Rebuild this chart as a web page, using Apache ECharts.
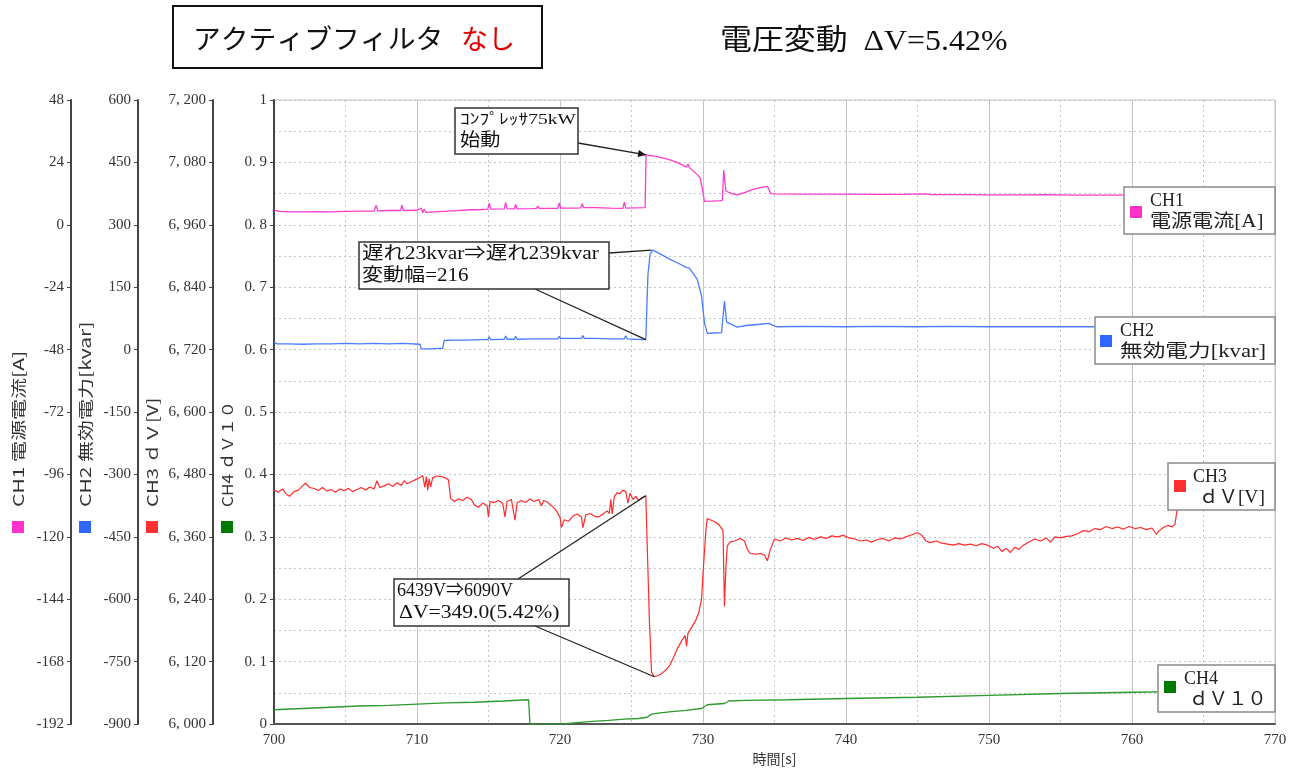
<!DOCTYPE html>
<html><head><meta charset="utf-8">
<script src="https://cdn.jsdelivr.net/npm/echarts@6/dist/echarts.min.js"></script>
<style>html,body{margin:0;padding:0;background:#fff;}#c{width:1304px;height:771px;}</style>
</head><body><div id="c"></div>
<script>
const SERIF = "'Liberation Serif','Noto Sans CJK JP',serif";
const JP = "'Noto Sans CJK JP','Liberation Serif',sans-serif";

// time axis [s]
const xMin = 700, xMax = 770, xStep = 10;
// axis ranges
const ch1Axis = {min:-192, max:48, interval:24};
const ch2Axis = {min:-900, max:600, interval:150};
const ch3Axis = {min:6000, max:7200, interval:120};
const ch4Axis = {min:0, max:1, interval:0.1};

// CH1 電源電流 [A]
const ch1 = [[700.0,5.6],[700.4,5.2],[701,5.0],[702,5.0],[703,5.1],[704,5.0],[705,5.2],[706,5.3],[707,5.3],[707.15,7.5],[707.25,5.4],[708,5.5],[708.85,5.5],[708.95,7.6],[709.05,5.5],[710,5.6],[710.3,6.4],[710.4,4.6],[710.5,6.0],[710.6,4.8],[710.7,5.2],[711.5,5.1],[712.5,5.4],[713.5,5.7],[714.5,5.9],[714.95,6.0],[715.05,8.3],[715.15,6.0],[716.1,6.1],[716.2,8.6],[716.3,6.2],[716.8,6.1],[716.9,7.8],[717.0,6.1],[718,6.2],[718.35,6.3],[718.45,7.2],[718.55,6.3],[719.85,6.3],[719.95,8.4],[720.05,6.4],[721,6.4],[721.45,6.5],[721.55,8.1],[721.65,6.6],[722.5,6.6],[723.5,6.4],[724.4,6.3],[724.5,8.7],[724.6,6.4],[725.2,6.5],[725.95,6.6],[726.02,26.9],[726.5,26.5],[727.1,25.8],[727.7,25.0],[728.3,23.7],[728.85,22.2],[728.95,23.4],[729.05,22.0],[729.6,19.3],[729.8,18.0],[729.95,14.0],[730.1,9.0],[730.6,9.1],[731.2,9.3],[731.35,9.4],[731.45,21.1],[731.6,13.0],[732.0,12.0],[732.4,11.5],[733.0,12.6],[733.5,13.6],[734.0,14.3],[734.5,14.8],[734.75,12.0],[735,11.9],[737,11.8],[740,11.8],[742,11.7],[744,11.7],[745.5,11.9],[746,11.6],[748,11.6],[750,11.5],[752,11.5],[754,11.6],[756,11.4],[758,11.4],[760,11.4],[762,11.3],[763,11.3],[763.1,5.2],[766,5.2],[770,5.2]];

// CH2 無効電力 [kvar]
const ch2 = [[700.0,18],[700.2,14],[701,14],[702,13],[703,14],[704,14],[705,15],[706,14],[707,15],[708,14],[709,15],[710.2,13],[710.3,2],[711,2],[711.5,3],[711.8,3],[711.9,22],[712.5,23],[713.5,23],[714.5,24],[714.95,24],[715.05,31],[715.15,24],[716.1,25],[716.2,33],[716.3,25],[716.8,25],[716.9,32],[717.0,25],[718,26],[719,26],[719.85,26],[719.95,32],[720.05,27],[721,27],[721.5,27],[721.6,34],[721.7,27],[722.5,27],[723.5,26],[724.5,26],[724.6,33],[724.7,26],[725.3,25],[726.0,24],[726.15,180],[726.3,230],[726.5,239],[727.0,230],[727.7,217],[728.3,207],[728.85,197],[728.95,201],[729.05,196],[729.6,169],[729.9,129],[730.1,65],[730.3,39],[730.8,40],[731.3,41],[731.4,44],[731.5,117],[731.65,66],[732.4,54],[733.0,58],[734.0,61],[734.6,63],[735.0,57],[735.2,55],[737,56],[740,55],[742,56],[745,55],[747,56],[750,55],[753,55],[756,55],[760,55],[763,55],[763.1,22],[770,22]];

// CH3 dV [V]
const ch3 = [[700.0,6450],[700.3,6446],[700.6,6452],[700.9,6441],[701.1,6438],[701.4,6447],[701.7,6450],[702.0,6458],[702.2,6463],[702.5,6455],[702.8,6453],[703.1,6449],[703.4,6455],[703.7,6448],[704.0,6451],[704.3,6446],[704.6,6452],[704.9,6449],[705.2,6453],[705.5,6447],[705.8,6451],[706.1,6455],[706.4,6450],[706.7,6456],[707.0,6452],[707.2,6468],[707.4,6455],[707.7,6458],[708.0,6462],[708.3,6457],[708.6,6464],[708.9,6459],[709.1,6468],[709.3,6462],[709.6,6466],[709.9,6470],[710.2,6474],[710.4,6478],[710.55,6455],[710.65,6476],[710.75,6450],[710.85,6472],[710.95,6456],[711.1,6474],[711.4,6477],[711.7,6476],[712.0,6473],[712.2,6470],[712.35,6434],[712.6,6428],[712.9,6433],[713.2,6430],[713.5,6436],[713.8,6432],[714.0,6422],[714.3,6417],[714.6,6425],[714.9,6420],[715.0,6398],[715.1,6428],[715.4,6426],[715.7,6430],[716.0,6424],[716.15,6398],[716.3,6428],[716.6,6432],[716.85,6392],[717.0,6425],[717.3,6430],[717.6,6426],[717.9,6433],[718.2,6428],[718.5,6432],[718.7,6420],[718.85,6430],[719.1,6427],[719.4,6420],[719.7,6412],[720.0,6398],[720.1,6378],[720.3,6393],[720.6,6390],[720.9,6400],[721.2,6404],[721.5,6398],[721.6,6378],[721.8,6402],[722.1,6405],[722.4,6400],[722.7,6398],[723.0,6404],[723.3,6410],[723.45,6405],[723.55,6432],[723.65,6404],[723.8,6438],[724.0,6445],[724.2,6443],[724.4,6450],[724.6,6447],[724.75,6425],[724.9,6444],[725.1,6432],[725.3,6438],[725.5,6430],[725.7,6435],[726.0,6439],[726.25,6200],[726.4,6100],[726.6,6091],[726.9,6094],[727.1,6097],[727.4,6104],[727.7,6114],[728.0,6132],[728.2,6145],[728.5,6160],[728.75,6170],[728.85,6150],[728.95,6175],[729.2,6186],[729.5,6200],[729.7,6214],[729.9,6240],[730.0,6290],[730.1,6330],[730.2,6372],[730.3,6395],[730.5,6393],[730.8,6389],[731.1,6384],[731.3,6376],[731.4,6372],[731.5,6226],[731.6,6300],[731.7,6343],[731.9,6350],[732.2,6352],[732.6,6357],[732.9,6352],[733.1,6336],[733.3,6328],[733.7,6327],[734.0,6328],[734.3,6325],[734.5,6314],[734.7,6335],[735.0,6356],[735.4,6352],[735.8,6358],[736.2,6354],[736.6,6357],[737.0,6353],[737.4,6359],[737.8,6355],[738.2,6360],[738.6,6357],[739.0,6362],[739.4,6360],[739.8,6363],[740.2,6358],[740.6,6356],[741.0,6352],[741.4,6354],[741.8,6350],[742.2,6355],[742.6,6357],[743.0,6352],[743.4,6358],[743.8,6356],[744.2,6360],[744.6,6364],[745.0,6368],[745.3,6363],[745.6,6352],[745.9,6349],[746.3,6352],[746.7,6348],[747.1,6346],[747.5,6344],[747.9,6347],[748.3,6344],[748.7,6346],[749.1,6343],[749.5,6347],[749.9,6344],[750.3,6338],[750.6,6342],[750.9,6332],[751.2,6338],[751.5,6330],[751.8,6340],[752.1,6336],[752.4,6344],[752.8,6350],[753.2,6356],[753.6,6352],[754.0,6358],[754.3,6350],[754.6,6360],[755.0,6358],[755.4,6361],[755.8,6362],[756.2,6366],[756.6,6372],[757.0,6370],[757.4,6376],[757.8,6374],[758.2,6380],[758.6,6376],[759.0,6379],[759.4,6375],[759.8,6380],[760.2,6376],[760.6,6378],[761.0,6374],[761.4,6377],[761.7,6365],[761.9,6372],[762.2,6378],[762.5,6382],[762.8,6379],[763.0,6384],[763.2,6420],[763.4,6456],[766.0,6456],[770.0,6456]];

// CH4 dV10
const ch4 = [[700,0.023],[702,0.025],[704,0.027],[706,0.029],[708,0.030],[710,0.032],[712,0.034],[714,0.035],[716,0.037],[717.8,0.039],[717.9,0.0],[720.0,0.0],[720.1,0.001],[721,0.002],[722,0.004],[723.4,0.006],[724.5,0.008],[725.5,0.009],[726.1,0.011],[726.4,0.016],[727,0.018],[727.8,0.020],[728.8,0.022],[729.9,0.025],[730.3,0.031],[731.5,0.033],[731.8,0.037],[733,0.038],[736,0.039],[740,0.041],[745,0.043],[750,0.046],[755,0.049],[760,0.051],[763,0.052],[770,0.053]];

const colors = {ch1:'#ff3ccc', ch2:'#4a7cff', ch3:'#ff2a2a', ch4:'#2c9a2c'};
const squareColors = {ch1:'#ff33cc', ch2:'#2f66ff', ch3:'#ff3030', ch4:'#007a00'};

function fmtCh4(v){ if (Math.abs(v) < 1e-9) return '0'; if (Math.abs(v-1) < 1e-9) return '1'; return v.toFixed(1).replace('.', '. '); }
function fmtCh3(v){ const s = String(Math.round(v)); return s.slice(0, s.length-3) + ', ' + s.slice(s.length-3); }

function leftAxis(range, offset, fmt, extra){
  return Object.assign({
    type:'value', position:'left', offset:offset,
    min:range.min, max:range.max, interval:range.interval,
    axisLine:{show:true, lineStyle:{color:'#444', width:2}},
    axisTick:{show:true, length:4, inside:false, lineStyle:{color:'#444', width:1}},
    axisLabel:{margin:7, fontFamily:SERIF, fontSize:15, color:'#333', formatter:fmt},
    splitLine:{show:false}
  }, extra || {});
}

const chart = echarts.init(document.getElementById('c'));
const option = {
  animation:false,
  backgroundColor:'#ffffff',
  grid:{left:274, right:29, top:100, bottom:45, show:true, borderColor:'#c4c4c4', borderWidth:1},
  xAxis:{
    type:'value', min:xMin, max:xMax, interval:xStep,
    name:'時間[s]', nameLocation:'middle', nameGap:26,
    nameTextStyle:{fontFamily:JP, fontSize:14, color:'#333'},
    axisLine:{show:true, onZero:false, lineStyle:{color:'#555', width:2}},
    axisTick:{show:false},
    axisLabel:{margin:8, fontFamily:SERIF, fontSize:15, color:'#333'},
    splitLine:{show:true, lineStyle:{color:'#c4c4c4', width:1}},
    minorTick:{show:true, splitNumber:2, length:0},
    minorSplitLine:{show:true, lineStyle:{color:'#c4c4c4', width:1, type:[2,3]}}
  },
  yAxis:[
    leftAxis(ch4Axis, 0, fmtCh4, {
      splitLine:{show:true, lineStyle:{color:'#c4c4c4', width:1, type:[2,3]}},
      minorTick:{show:true, splitNumber:2, length:0},
      minorSplitLine:{show:true, lineStyle:{color:'#c4c4c4', width:1, type:[2,3]}}
    }),
    leftAxis(ch3Axis, 61, fmtCh3),
    leftAxis(ch2Axis, 136, null),
    leftAxis(ch1Axis, 203, null)
  ],
  series:[
    {name:'CH4', type:'line', yAxisIndex:0, data:ch4, showSymbol:false, lineStyle:{color:colors.ch4, width:1.3}, itemStyle:{color:colors.ch4}, z:2},
    {name:'CH3', type:'line', yAxisIndex:1, data:ch3, showSymbol:false, lineStyle:{color:colors.ch3, width:1.2}, itemStyle:{color:colors.ch3}, z:3},
    {name:'CH2', type:'line', yAxisIndex:2, data:ch2, showSymbol:false, lineStyle:{color:colors.ch2, width:1.3}, itemStyle:{color:colors.ch2}, z:4},
    {name:'CH1', type:'line', yAxisIndex:3, data:ch1, showSymbol:false, lineStyle:{color:colors.ch1, width:1.3}, itemStyle:{color:colors.ch1}, z:5}
  ]
};
chart.setOption(option);

// ---------- decorations ----------
const g = [];
function txt(x, y, text, size, opts){
  opts = opts || {};
  return {type:'text', x:x, y:y, rotation:opts.rotation || 0, scaleX:opts.scaleX || 1,
    style:{text:text, fontFamily:opts.font || SERIF, fontSize:size, fill:opts.fill || '#111',
      align:'left', verticalAlign:'middle', textAlign:'left', textVerticalAlign:'middle'}, z:opts.z || 58};
}
// title
g.push({type:'rect', shape:{x:173, y:6, width:369, height:62}, style:{fill:'#fff', stroke:'#111', lineWidth:2}, z:50});
g.push(txt(193, 39, 'アクティブフィルタ', 27, {font:JP, scaleX:1.03, z:51}));
g.push(txt(461, 39, 'なし', 27, {font:JP, fill:'#e00000', z:51}));
g.push(txt(720, 42, '電圧変動  ΔV=5.42%', 29, {scaleX:1.1, z:51}));

// vertical axis names with squares
const axisNames = [
  {x:18, text:'CH1 電源電流[A]', c:squareColors.ch1, s:1.4},
  {x:85, text:'CH2 無効電力[kvar]', c:squareColors.ch2, s:1.4},
  {x:152, text:'CH3 ｄＶ[V]', c:squareColors.ch3, s:1.35},
  {x:227, text:'CH4 ｄＶ１０', c:squareColors.ch4, s:1.15}
];
axisNames.forEach(a => {
  g.push(txt(a.x, 507, a.text, 15, {font:JP, fill:'#333', rotation:Math.PI/2, scaleX:a.s, z:51}));
  g.push({type:'rect', shape:{x:a.x-6, y:521, width:12, height:12}, style:{fill:a.c}, z:51});
});

// legend boxes
const legendBoxes = [
  {x:1124, y:187, w:151, h:47, sq:[1130,206], t1:'CH1', t2:'電源電流[A]', tx:1150, t2x:1150, s:1.17, c:squareColors.ch1},
  {x:1095, y:317, w:180, h:47, sq:[1100,335], t1:'CH2', t2:'無効電力[kvar]', tx:1120, t2x:1120, s:1.26, c:squareColors.ch2},
  {x:1168, y:463, w:107, h:47, sq:[1174,480], t1:'CH3', t2:'ｄＶ[V]', tx:1193, t2x:1199, s:1.08, c:squareColors.ch3},
  {x:1158, y:665, w:117, h:47, sq:[1164,681], t1:'CH4', t2:'ｄＶ１０', tx:1184, t2x:1189, s:1.08, c:squareColors.ch4}
];
legendBoxes.forEach(b => {
  g.push({type:'rect', shape:{x:b.x, y:b.y, width:b.w, height:b.h}, style:{fill:'#fff', stroke:'#8a8a8a', lineWidth:1.5}, z:60});
  g.push({type:'rect', shape:{x:b.sq[0], y:b.sq[1], width:12, height:12}, style:{fill:b.c}, z:61});
  g.push(txt(b.tx, b.y+14, b.t1, 18, {fill:'#222', z:61}));
  g.push(txt(b.t2x, b.y+35, b.t2, 18, {fill:'#222', scaleX:b.s, z:61}));
});

// annotations (boxes in pixels, anchors in data coords)
const annotations = [
  {box:[455,108,123,46], lines:[{from:[578,143], axis:3, at:[726.02,26.9], arrow:true}],
   texts:[{t:'ｺﾝﾌﾟﾚｯｻ75kW', x:460, y:120, s:15, k:1.3},{t:'始動', x:460, y:141, s:18, k:1.12}]},
  {box:[359,242,250,47], lines:[{from:[609,253], axis:2, at:[726.4,239]},{from:[535,289], axis:2, at:[726.0,24]}],
   texts:[{t:'遅れ23kvar⇒遅れ239kvar', x:362, y:254, s:18, k:1.19},{t:'変動幅=216', x:362, y:276, s:18, k:1.17}]},
  {box:[394,579,175,47], lines:[{from:[518,579], axis:1, at:[726.0,6439]},{from:[535,626], axis:1, at:[726.6,6091]}],
   texts:[{t:'6439V⇒6090V', x:397, y:591, s:18, k:1.0},{t:'ΔV=349.0(5.42%)', x:399, y:613, s:18, k:1.2}]}
];
annotations.forEach(an => {
  an.lines.forEach(l => {
    const p = chart.convertToPixel({xAxisIndex:0, yAxisIndex:l.axis}, l.at);
    g.push({type:'line', shape:{x1:l.from[0], y1:l.from[1], x2:p[0], y2:p[1]}, style:{stroke:'#222', lineWidth:1.3}, z:55});
    if (l.arrow) {
      const dx = p[0]-l.from[0], dy = p[1]-l.from[1], L = Math.hypot(dx,dy);
      const ux = dx/L, uy = dy/L, px = -uy, py = ux, len = 8, wd = 3.5;
      g.push({type:'polygon', shape:{points:[[p[0],p[1]],[p[0]-ux*len+px*wd, p[1]-uy*len+py*wd],[p[0]-ux*len-px*wd, p[1]-uy*len-py*wd]]}, style:{fill:'#111'}, z:56});
    }
  });
  g.push({type:'rect', shape:{x:an.box[0], y:an.box[1], width:an.box[2], height:an.box[3]}, style:{fill:'#fff', stroke:'#333', lineWidth:1.5}, z:57});
  an.texts.forEach(t => g.push(txt(t.x, t.y, t.t, t.s, {scaleX:t.k, z:58})));
});

chart.setOption({graphic:g});
</script>
</body></html>
